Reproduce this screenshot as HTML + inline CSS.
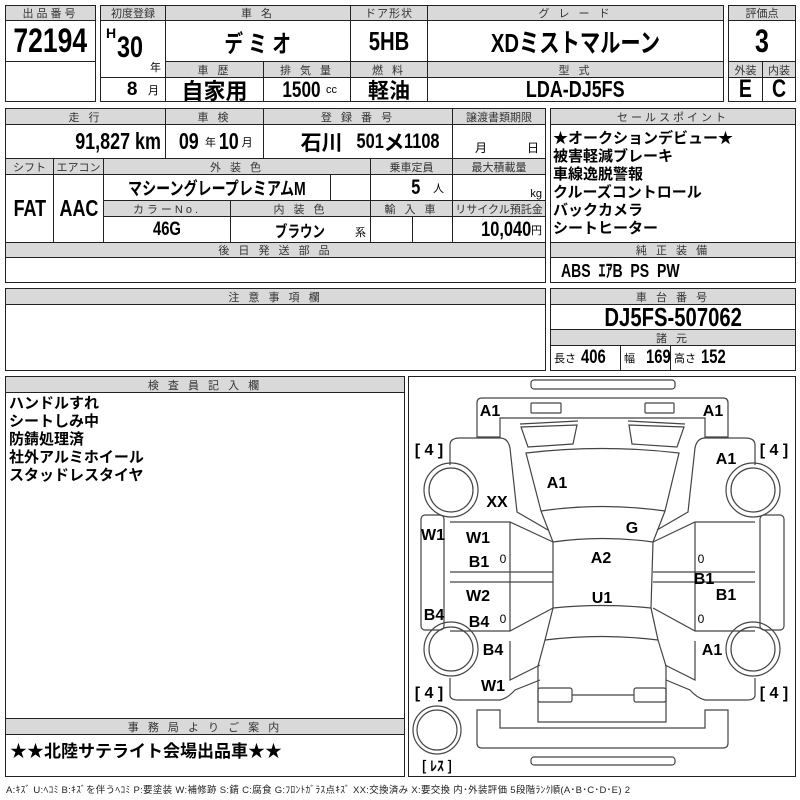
<!DOCTYPE html>
<html><head><meta charset="utf-8"><style>
*{box-sizing:border-box;margin:0;padding:0}
body{width:800px;height:800px;background:#fff;position:relative;overflow:hidden;font-family:"Liberation Sans","Noto Sans CJK JP",sans-serif;color:#000}
.c{position:absolute;border:1px solid #222;background:#fff;display:flex;align-items:center;justify-content:center;white-space:nowrap;overflow:hidden}
.h{background:#d9d9d9;font-size:11px;letter-spacing:3px;color:#333;font-weight:normal}
.b{font-family:"Liberation Sans","Noto Sans CJK JP",sans-serif;font-weight:bold}
.n{display:inline-block;transform:scaleX(.78)}
.r{transform-origin:right center}
.l{transform-origin:left center}
.t{position:absolute;white-space:nowrap}
.s{font-size:11px;font-weight:normal;font-family:"Liberation Sans","Noto Sans CJK JP",sans-serif}
</style></head><body>
<div class="c h" style="left:5px;top:5px;width:91px;height:16px">出品番号</div>
<div class="c b" style="left:5px;top:20px;width:91px;height:42px;font-size:34px"><span class="n">72194</span></div>
<div class="c" style="left:5px;top:61px;width:91px;height:41px"></div>
<div class="c h" style="left:100px;top:5px;width:66px;height:16px;letter-spacing:0">初度登録</div>
<div class="c h" style="left:165px;top:5px;width:186px;height:16px">車 名</div>
<div class="c h" style="left:350px;top:5px;width:78px;height:16px;letter-spacing:1px">ドア形状</div>
<div class="c h" style="left:427px;top:5px;width:297px;height:16px">グ レ ー ド</div>
<div class="c b" style="left:100px;top:20px;width:66px;height:58px"><span style="position:absolute;left:5px;top:4px;font-size:14px">H</span><span class="n l" style="position:absolute;left:16px;top:10px;font-size:30px">30</span><span class="s" style="position:absolute;right:4px;bottom:2px">年</span></div>
<div class="c b" style="left:165px;top:20px;width:186px;height:42px;font-size:24px"><span class="n">デ ミ オ</span></div>
<div class="c b" style="left:350px;top:20px;width:78px;height:42px;font-size:26px"><span class="n">5HB</span></div>
<div class="c b" style="left:427px;top:20px;width:297px;height:42px;font-size:26px"><span class="n">XDミストマルーン</span></div>
<div class="c h" style="left:165px;top:61px;width:99px;height:17px">車 歴</div>
<div class="c h" style="left:263px;top:61px;width:88px;height:17px">排 気 量</div>
<div class="c h" style="left:350px;top:61px;width:78px;height:17px">燃 料</div>
<div class="c h" style="left:427px;top:61px;width:297px;height:17px">型 式</div>
<div class="c b" style="left:100px;top:77px;width:66px;height:25px;font-size:19px;justify-content:flex-end;padding-right:6px">8&nbsp;&nbsp;<span class="s">月</span></div>
<div class="c b" style="left:165px;top:77px;width:99px;height:25px;font-size:22px">自家用</div>
<div class="c b" style="left:263px;top:77px;width:88px;height:25px;font-size:22px"><span class="n">1500</span><span class="s">cc</span></div>
<div class="c b" style="left:350px;top:77px;width:78px;height:25px;font-size:21px">軽油</div>
<div class="c b" style="left:427px;top:77px;width:297px;height:25px;font-size:23px"><span class="n">LDA-DJ5FS</span></div>
<div class="c h" style="left:728px;top:5px;width:68px;height:16px;letter-spacing:0">評価点</div>
<div class="c b" style="left:728px;top:20px;width:68px;height:42px;font-size:32px"><span class="n">3</span></div>
<div class="c h" style="left:728px;top:61px;width:35px;height:17px;letter-spacing:0">外装</div>
<div class="c h" style="left:762px;top:61px;width:34px;height:17px;letter-spacing:0">内装</div>
<div class="c b" style="left:728px;top:77px;width:35px;height:25px;font-size:25px"><span class="n">E</span></div>
<div class="c b" style="left:762px;top:77px;width:34px;height:25px;font-size:25px"><span class="n">C</span></div>
<div class="c h" style="left:5px;top:108px;width:161px;height:17px">走 行</div>
<div class="c h" style="left:165px;top:108px;width:99px;height:17px">車 検</div>
<div class="c h" style="left:263px;top:108px;width:190px;height:17px">登 録 番 号</div>
<div class="c h" style="left:452px;top:108px;width:94px;height:17px;letter-spacing:0">譲渡書類期限</div>
<div class="c b" style="left:5px;top:124px;width:161px;height:35px;font-size:23px;justify-content:flex-end;padding-right:4px"><span class="n r">91,827 km</span></div>
<div class="c b" style="left:165px;top:124px;width:99px;height:35px;font-size:23px"><span class="n">09</span><span class="s">&nbsp;年</span><span class="n">10</span><span class="s">月</span></div>
<div class="c b" style="left:263px;top:124px;width:190px;height:35px;font-size:21px;justify-content:flex-end;padding-right:2px">石川 <span class="n r">&nbsp;501</span>メ<span class="n l">1108</span></div>
<div class="c s" style="left:452px;top:124px;width:94px;height:35px;align-items:flex-end;padding-bottom:2px;font-size:12px;justify-content:flex-end;padding-right:6px">月&nbsp;&nbsp;&nbsp;&nbsp;&nbsp;&nbsp;&nbsp;&nbsp;&nbsp;&nbsp;&nbsp;&nbsp;日</div>
<div class="c h" style="left:5px;top:158px;width:49px;height:17px;letter-spacing:0">シフト</div>
<div class="c h" style="left:53px;top:158px;width:51px;height:17px;letter-spacing:0">エアコン</div>
<div class="c h" style="left:103px;top:158px;width:268px;height:17px">外 装 色</div>
<div class="c h" style="left:370px;top:158px;width:83px;height:17px;letter-spacing:0">乗車定員</div>
<div class="c h" style="left:452px;top:158px;width:94px;height:17px;letter-spacing:0">最大積載量</div>
<div class="c b" style="left:5px;top:174px;width:49px;height:69px;font-size:23px"><span class="n">FAT</span></div>
<div class="c b" style="left:53px;top:174px;width:51px;height:69px;font-size:23px"><span class="n">AAC</span></div>
<div class="c b" style="left:103px;top:174px;width:228px;height:27px;font-size:18px"><span class="n">マシーングレープレミアムM</span></div>
<div class="c" style="left:330px;top:174px;width:41px;height:27px"></div>
<div class="c b" style="left:370px;top:174px;width:83px;height:27px;font-size:21px;justify-content:flex-end;padding-right:8px"><span class="n">5</span>&nbsp;&nbsp;<span class="s">人</span></div>
<div class="c s" style="left:452px;top:174px;width:94px;height:27px;justify-content:flex-end;padding-right:3px;align-items:flex-end">kg</div>
<div class="c h" style="left:103px;top:200px;width:128px;height:17px">カラーNo.</div>
<div class="c h" style="left:230px;top:200px;width:141px;height:17px">内 装 色</div>
<div class="c h" style="left:370px;top:200px;width:83px;height:17px">輸 入 車</div>
<div class="c h" style="left:452px;top:200px;width:94px;height:17px;letter-spacing:0">リサイクル預託金</div>
<div class="c b" style="left:103px;top:216px;width:128px;height:27px;font-size:19px"><span class="n">46G</span></div>
<div class="c b" style="left:230px;top:216px;width:141px;height:27px;font-size:16px"><span class="n">ブラウン</span><span class="s" style="position:absolute;right:4px;bottom:2px">系</span></div>
<div class="c" style="left:370px;top:216px;width:43px;height:27px"></div>
<div class="c" style="left:412px;top:216px;width:41px;height:27px"></div>
<div class="c b" style="left:452px;top:216px;width:94px;height:27px;font-size:21px;justify-content:flex-end;padding-right:3px"><span class="n r">10,040</span><span class="s">円</span></div>
<div class="c h" style="left:5px;top:242px;width:541px;height:16px">後 日 発 送 部 品</div>
<div class="c" style="left:5px;top:257px;width:541px;height:26px"></div>
<div class="c h" style="left:550px;top:108px;width:246px;height:17px">セールスポイント</div>
<div class="c" style="left:550px;top:124px;width:246px;height:119px;display:block;padding:5px 0 0 2px;font-size:15px;font-weight:bold;line-height:18px">★オークションデビュー★<br>被害軽減ブレーキ<br>車線逸脱警報<br>クルーズコントロール<br>バックカメラ<br>シートヒーター</div>
<div class="c h" style="left:550px;top:242px;width:246px;height:16px">純 正 装 備</div>
<div class="c b" style="left:550px;top:257px;width:246px;height:26px;font-size:18px;justify-content:flex-start;padding-left:10px"><span class="n l">ABS&nbsp;&nbsp;ｴｱB&nbsp;&nbsp;PS&nbsp;&nbsp;PW</span></div>
<div class="c h" style="left:5px;top:288px;width:541px;height:17px">注 意 事 項 欄</div>
<div class="c" style="left:5px;top:304px;width:541px;height:67px"></div>
<div class="c h" style="left:550px;top:288px;width:246px;height:17px">車 台 番 号</div>
<div class="c b" style="left:550px;top:304px;width:246px;height:26px;font-size:26px"><span class="n">DJ5FS-507062</span></div>
<div class="c h" style="left:550px;top:329px;width:246px;height:17px">諸 元</div>
<div class="c b" style="left:550px;top:345px;width:71px;height:26px;font-size:19px;justify-content:flex-start;padding-left:3px"><span class="s">長さ</span>&nbsp;<span class="n l">406</span></div>
<div class="c b" style="left:620px;top:345px;width:51px;height:26px;font-size:19px;justify-content:flex-start;padding-left:3px"><span class="s">幅</span>&nbsp;&nbsp;<span class="n l">169</span></div>
<div class="c b" style="left:670px;top:345px;width:126px;height:26px;font-size:19px;justify-content:flex-start;padding-left:3px"><span class="s">高さ</span>&nbsp;<span class="n l">152</span></div>
<div class="c h" style="left:5px;top:376px;width:400px;height:17px">検 査 員 記 入 欄</div>
<div class="c" style="left:5px;top:392px;width:400px;height:327px;display:block;padding:2px 0 0 3px;font-size:15px;font-weight:bold;line-height:18px">ハンドルすれ<br>シートしみ中<br>防錆処理済<br>社外アルミホイール<br>スタッドレスタイヤ</div>
<div class="c h" style="left:5px;top:718px;width:400px;height:17px">事 務 局 よ り ご 案 内</div>
<div class="c" style="left:5px;top:734px;width:400px;height:43px;justify-content:flex-start;padding-left:4px;align-items:flex-start;padding-top:2px;font-size:17px;font-weight:bold">★★北陸サテライト会場出品車★★</div>
<div class="c" style="left:408px;top:376px;width:388px;height:401px"></div>
<svg style="position:absolute;left:0;top:0" width="800" height="800" fill="none" stroke="#444" stroke-width="1.2">
<rect x="531" y="380" width="144" height="9" rx="3"/>
<path d="M477,437 L477,403 Q477,398 482,398 L723,398 Q728,398 728,403 L728,437 L705,437 L705,418 L500,418 L500,437 Z"/>
<rect x="531" y="403" width="30" height="10" rx="1"/><rect x="645" y="403" width="29" height="10" rx="1"/>
<path d="M521,427 L577,425 L573,444 L528,447 Z M520,424 L578,421"/>
<path d="M629,425 L684,427 L677,447 L632,444 Z M628,421 L685,424"/>
<path d="M526,453 Q602,444 679,453 L665,511 Q602,502 541,511 Z"/>
<path d="M541,511 L553,542 Q602,535 653,542 L665,511"/>
<path d="M553,542 L553,608 Q602,603 651,608 L653,542"/>
<path d="M553,608 L545,640 Q602,633 658,640 L651,608"/>
<path d="M545,640 L538,666 L538,722 L666,722 L666,666 L658,640"/>
<rect x="538" y="688" width="34" height="14" rx="2"/><rect x="634" y="688" width="32" height="14" rx="2"/><path d="M572,695 L634,695"/>
<path d="M477,710 L477,743 Q477,748 482,748 L723,748 Q728,748 728,743 L728,710 L705,710 L705,728 L500,728 L500,710 Z"/>
<rect x="531" y="757" width="144" height="8" rx="3"/>
<path d="M450,465 L450,445 Q450,438 460,438 L500,438 Q508,438 510,448 L517,512 L548,530"/>
<path d="M450,522 L510,522 L553,542 M450,572 L553,572 M450,582 L553,582 M450,631 L510,631 L553,608 M510,522 L510,631"/>
<path d="M510,641 L510,680 L540,665 M450,678 L450,695 Q450,700 458,700 L500,700 Q508,698 515,690 L540,680"/>
<path d="M755,465 L755,445 Q755,438 745,438 L705,438 Q697,438 695,448 L688,512 L657,530"/>
<path d="M755,522 L695,522 L653,542 M755,572 L653,572 M755,582 L653,582 M755,631 L695,631 L653,608 M695,522 L695,631"/>
<path d="M695,641 L695,680 L665,665 M755,678 L755,695 Q755,700 747,700 L705,700 Q697,698 690,690 L666,680"/>
<rect x="421" y="515" width="23" height="115" rx="4"/><rect x="760" y="515" width="24" height="115" rx="4"/>
<circle cx="451" cy="490" r="27"/><circle cx="451" cy="490" r="22"/>
<circle cx="451" cy="649" r="27"/><circle cx="451" cy="649" r="22"/>
<circle cx="753" cy="490" r="27"/><circle cx="753" cy="490" r="22"/>
<circle cx="753" cy="649" r="27"/><circle cx="753" cy="649" r="22"/>
<circle cx="437" cy="730" r="24"/><circle cx="437" cy="730" r="20"/>
<g fill="#000" stroke="none" font-family="Liberation Sans,sans-serif" font-weight="bold" font-size="16" text-anchor="middle">
<text x="490" y="416">A1</text><text x="713" y="416">A1</text><text x="726" y="464">A1</text><text x="557" y="488">A1</text>
<text x="497" y="507">XX</text><text x="632" y="533">G</text><text x="433" y="540">W1</text><text x="478" y="543">W1</text>
<text x="479" y="567">B1</text><text x="601" y="563">A2</text><text x="704" y="584">B1</text><text x="726" y="600">B1</text>
<text x="478" y="601">W2</text><text x="602" y="603">U1</text><text x="434" y="620">B4</text><text x="479" y="627">B4</text>
<text x="493" y="655">B4</text><text x="712" y="655">A1</text><text x="493" y="691">W1</text>
<g font-weight="normal" font-size="12"><text x="503" y="563">0</text><text x="701" y="563">0</text><text x="503" y="623">0</text><text x="701" y="623">0</text></g>
<text x="429" y="455">[ 4 ]</text><text x="774" y="455">[ 4 ]</text><text x="429" y="698">[ 4 ]</text><text x="774" y="698">[ 4 ]</text>
<text x="437" y="771" font-size="14" font-family="Noto Sans CJK JP,sans-serif">[ ﾚｽ ]</text>
</g>
</svg>
<div class="t" style="left:6px;top:782px;font-size:9.5px;color:#222;letter-spacing:0.3px">A:ｷｽﾞ U:ﾍｺﾐ B:ｷｽﾞを伴うﾍｺﾐ P:要塗装 W:補修跡 S:錆 C:腐食 G:ﾌﾛﾝﾄｶﾞﾗｽ点ｷｽﾞ XX:交換済み X:要交換 内･外装評価 5段階ﾗﾝｸ順(A･B･C･D･E) 2</div>
</body></html>
